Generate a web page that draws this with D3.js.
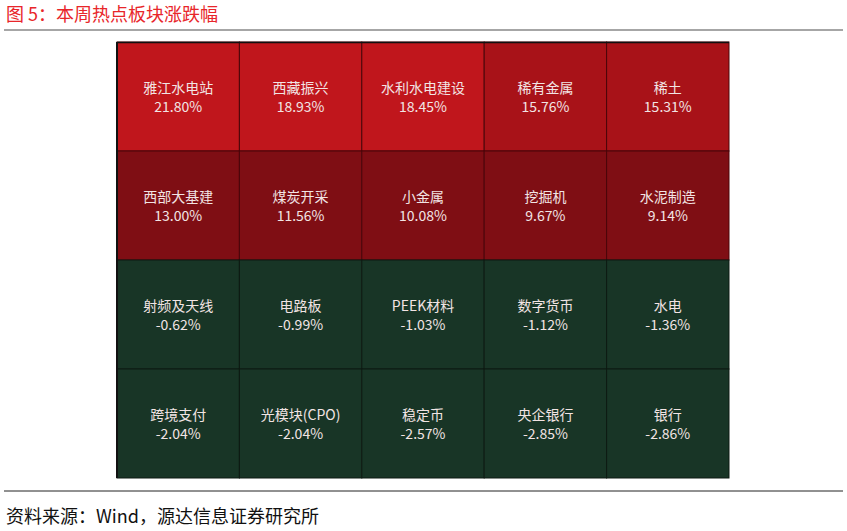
<!DOCTYPE html>
<html><head><meta charset="utf-8">
<script src="https://cdn.jsdelivr.net/npm/d3@7"></script>
<style>body{margin:0;background:#fff;font-family:"Microsoft YaHei","Noto Sans CJK SC",sans-serif;}</style>
</head><body><div id="chart"></div>
<script>
var names = ["雅江水电站","西藏振兴","水利水电建设","稀有金属","稀土",
  "西部大基建","煤炭开采","小金属","挖掘机","水泥制造",
  "射频及天线","电路板","PEEK材料","数字货币","水电",
  "跨境支付","光模块(CPO)","稳定币","央企银行","银行"];
var values = [21.80,18.93,18.45,15.76,15.31,13.00,11.56,10.08,9.67,9.14,
  -0.62,-0.99,-1.03,-1.12,-1.36,-2.04,-2.04,-2.57,-2.85,-2.86];
var cols = 5, rows = 4;

var svg = d3.select("#chart").append("svg").attr("width", 847).attr("height", 531);
var font = '"Microsoft YaHei","Noto Sans CJK SC",sans-serif';

svg.append("text").attr("x", 6).attr("y", 21).attr("fill", "#e8262a")
  .attr("font-size", 18).attr("font-family", font).text("图 5：本周热点板块涨跌幅");
svg.append("line").attr("x1", 4).attr("x2", 843).attr("y1", 30).attr("y2", 30)
  .attr("stroke", "#888").attr("stroke-width", 1.5);

var x = d3.scaleBand().domain(d3.range(cols)).range([117, 729]);
var y = d3.scaleBand().domain(d3.range(rows)).range([42, 478]);
var color = d3.scaleThreshold().domain([0, 14, 17]).range(["#183526", "#7f0e14", "#a81218", "#c0161c"]);

var cell = svg.append("g").selectAll("g").data(values).enter().append("g")
  .attr("transform", function(d, i) { return "translate(" + x(i % cols) + "," + y(Math.floor(i / cols)) + ")"; });
cell.append("rect").attr("width", x.bandwidth()).attr("height", y.bandwidth())
  .attr("fill", function(d) { return color(d); })
  .attr("stroke", function(d) { return d < 0 ? "#0d1a12" : "#4a0509"; }).attr("stroke-width", 1);
cell.append("text").attr("x", x.bandwidth() / 2).attr("y", y.bandwidth() / 2 - 4)
  .attr("text-anchor", "middle").attr("font-size", 14).attr("font-family", font)
  .attr("fill", "#f2e4e4").text(function(d, i) { return names[i]; });
cell.append("text").attr("x", x.bandwidth() / 2).attr("y", y.bandwidth() / 2 + 15)
  .attr("text-anchor", "middle").attr("font-size", 14).attr("font-family", font)
  .attr("fill", "#f2e4e4").text(function(d) { return d.toFixed(2) + "%"; });

svg.append("line").attr("x1", 117).attr("x2", 729).attr("y1", 42.5).attr("y2", 42.5).attr("stroke", "#111").attr("stroke-width", 1.5);
svg.append("line").attr("x1", 117).attr("x2", 117).attr("y1", 42).attr("y2", 478).attr("stroke", "#111").attr("stroke-width", 2);

svg.append("line").attr("x1", 4).attr("x2", 843).attr("y1", 491).attr("y2", 491)
  .attr("stroke", "#222").attr("stroke-width", 1);
svg.append("text").attr("x", 6).attr("y", 523).attr("fill", "#111")
  .attr("font-size", 18).attr("font-family", font).text("资料来源：Wind，源达信息证券研究所");
</script></body></html>
